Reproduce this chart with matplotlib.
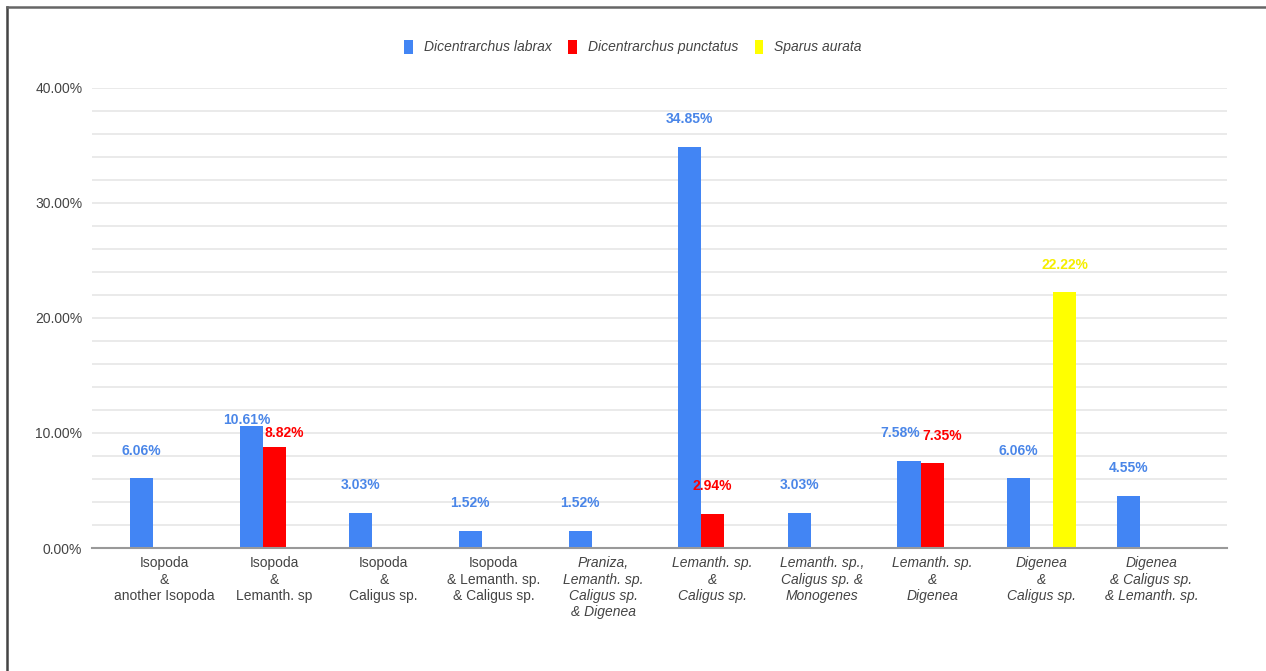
import numpy as np
import matplotlib.pyplot as plt
from matplotlib.lines import Line2D

plt.rcParams['font.family'] = ['Liberation Sans', 'DejaVu Sans']

categories = [
    "Isopoda\n&\nanother Isopoda",
    "Isopoda\n&\nLemanth. sp",
    "Isopoda\n&\nCaligus sp.",
    "Isopoda\n& Lemanth. sp.\n& Caligus sp.",
    "Praniza,\nLemanth. sp.\nCaligus sp.\n& Digenea",
    "Lemanth. sp.\n&\nCaligus sp.",
    "Lemanth. sp.,\nCaligus sp. &\nMonogenes",
    "Lemanth. sp.\n&\nDigenea",
    "Digenea\n&\nCaligus sp.",
    "Digenea\n& Caligus sp.\n& Lemanth. sp.",
]
series_names = ["Dicentrarchus labrax", "Dicentrarchus punctatus", "Sparus aurata"]
labrax = [6.06, 10.61, 3.03, 1.52, 1.52, 34.85, 3.03, 7.58, 6.06, 4.55]
punctatus = [0, 8.82, 0, 0, 0, 2.94, 0, 7.35, 0, 0]
aurata = [0, 0, 0, 0, 0, 0, 0, 0, 22.22, 0]

colors = ["#4285F4", "#FF0000", "#FFFF00"]
label_colors = ["#4a86e8", "#FF0000", "#F5EE00"]

fig = plt.figure(figsize=(12.66, 6.71), dpi=100)
ax = fig.add_axes([0.0727, 0.1833, 0.8965, 0.6856])

x = np.arange(len(categories))
w = 0.21
# label nudges (points) where the original moved labels apart
nudge = {(0, 1): (-3, -16), (1, 1): (7, -10), (0, 7): (-6, 0), (1, 7): (7, 0)}

for s, vals in enumerate([labrax, punctatus, aurata]):
    pos = x + (s - 1) * w
    ax.bar(pos, vals, width=w, color=colors[s], label=series_names[s], zorder=3)
    for i, v in enumerate(vals):
        if v == 0:
            continue
        dx, dy = nudge.get((s, i), (0, 0))
        ax.annotate(f"{v:.2f}%", (pos[i], v), xytext=(dx, 20 + dy),
                    textcoords="offset points", ha="center", va="center",
                    fontsize=10, fontweight="bold", color=label_colors[s], zorder=4)

ax.set_xlim(-0.66, 9.69)
ax.set_ylim(0, 40)
ax.set_yticks(np.arange(0, 41, 2), minor=True)
ax.set_yticks([0, 10, 20, 30, 40])
ax.set_yticklabels([f"{t:.2f}%" for t in [0, 10, 20, 30, 40]], fontsize=10, color="#444444")
ax.grid(axis="y", which="both", color="#e6e6e6", linewidth=1.2, zorder=0)
ax.tick_params(axis="y", which="both", length=0, pad=7)
ax.tick_params(axis="x", length=0, pad=6)
ax.set_xticks(x)
ax.set_xticklabels(categories, fontsize=10, color="#444444", linespacing=1.2)
# the later groups are set in italics in the original
for i, t in enumerate(ax.get_xticklabels()):
    if i >= 4:
        t.set_style("italic")
for sp in ["top", "right", "left"]:
    ax.spines[sp].set_visible(False)
ax.spines["bottom"].set_color("#999999")
ax.spines["bottom"].set_linewidth(1.5)
ax.spines["bottom"].set_zorder(5)

leg = fig.legend(loc="center", bbox_to_anchor=(0.5, 0.93), ncol=3, frameon=False,
                 handlelength=0.6, handleheight=1.2, handletextpad=0.8, columnspacing=1.2,
                 prop={"style": "italic", "size": 10})
for t in leg.get_texts():
    t.set_color("#444444")

# frame lines at left and top of the picture
fig.add_artist(Line2D([0.0055, 0.0055], [0, 0.99], color="#444444", linewidth=1.8))
fig.add_artist(Line2D([0.0055, 1.0], [0.99, 0.99], color="#666666", linewidth=1.8))

fig.savefig("out.png", dpi=100)
